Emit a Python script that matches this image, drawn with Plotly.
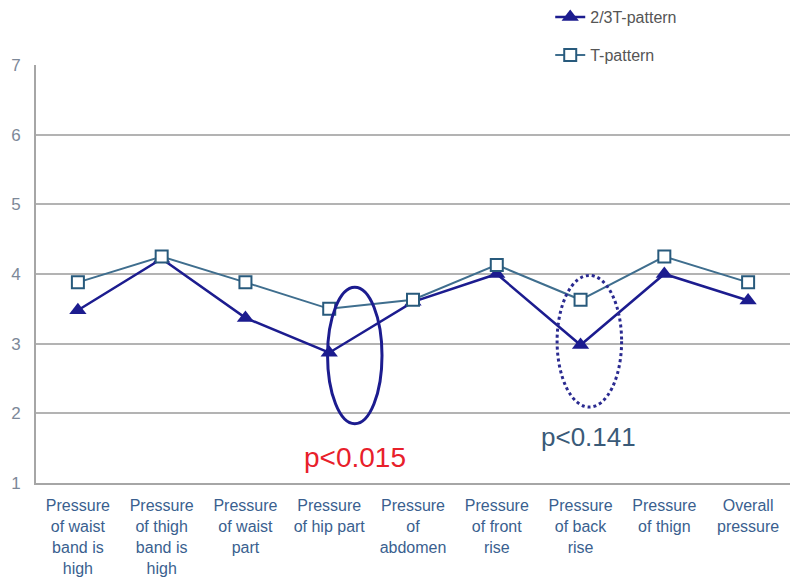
import plotly.graph_objects as go

categories = [
    "Pressure<br>of waist<br>band is<br>high",
    "Pressure<br>of thigh<br>band is<br>high",
    "Pressure<br>of waist<br>part",
    "Pressure<br>of hip part",
    "Pressure<br>of<br>abdomen",
    "Pressure<br>of front<br>rise",
    "Pressure<br>of back<br>rise",
    "Pressure<br>of thign",
    "Overall<br>pressure",
]
pattern_23t = [3.48, 4.22, 3.37, 2.87, 3.6, 4.0, 2.98, 4.0, 3.62]
pattern_t = [3.88, 4.25, 3.88, 3.5, 3.63, 4.13, 3.63, 4.25, 3.88]
y_ticks = [1, 2, 3, 4, 5, 6, 7]

fig = go.Figure()
fig.add_trace(go.Scatter(
    x=list(range(len(categories))), y=pattern_23t, name="2/3T-pattern",
    mode="lines+markers", legendgroup="a",
    line=dict(color="#1c1c8f", width=2.5),
    marker=dict(symbol="triangle-up", size=15, color="#1c1c8f"),
))
fig.add_trace(go.Scatter(
    x=list(range(len(categories))), y=pattern_t, name="T-pattern",
    mode="lines+markers", legendgroup="b",
    line=dict(color="#3f6e8e", width=2),
    marker=dict(symbol="square", size=12, color="white",
                line=dict(color="#285a7c", width=2)),
))

# ellipses
fig.add_shape(type="circle", xref="x", yref="y", x0=2.98, x1=3.63, y0=1.85, y1=3.81,
              line=dict(color="#1c1c8f", width=3))
fig.add_shape(type="circle", xref="x", yref="y", x0=5.72, x1=6.49, y0=2.09, y1=3.98,
              line=dict(color="#2a2a90", width=3, dash="dot"))

fig.add_annotation(x=3.31, y=1.36, xref="x", yref="y", text="p<0.015", showarrow=False,
                   font=dict(size=28, color="#e8202a", family="Liberation Sans, Arial"))
fig.add_annotation(x=6.09, y=1.66, xref="x", yref="y", text="p<0.141", showarrow=False,
                   font=dict(size=26, color="#3a5a78", family="Liberation Sans, Arial"))

fig.update_layout(
    width=800, height=582,
    margin=dict(l=28, r=18, t=57, b=107, autoexpand=False),
    paper_bgcolor="white", plot_bgcolor="white",
    font=dict(family="Liberation Sans, Arial", color="#555555"),
    showlegend=True,
    legend=dict(x=0.682, y=1.155, xanchor="left", yanchor="top",
                font=dict(size=16, color="#555555"), tracegroupgap=14,
                bgcolor="rgba(0,0,0,0)"),
    xaxis=dict(
        tickmode="array", tickvals=list(range(len(categories))), ticktext=categories,
        range=[-0.5, len(categories) - 0.5], showgrid=False, zeroline=False,
        showline=True, linecolor="#a6a6a6", linewidth=2, automargin=False,
        tickfont=dict(size=16, color="#3a5f8f"), ticks="", tickangle=0,
        ticklabelstandoff=7,
    ),
    yaxis=dict(
        range=[1, 7], tickvals=y_ticks, showgrid=True, gridcolor="#b3b3b3", gridwidth=1.5,
        zeroline=False, showline=True, linecolor="#a6a6a6", linewidth=2, automargin=False,
        tickfont=dict(size=17, color="#7d8898"), ticks="", ticklabelstandoff=10,
    ),
)

fig.write_html("out.html")
